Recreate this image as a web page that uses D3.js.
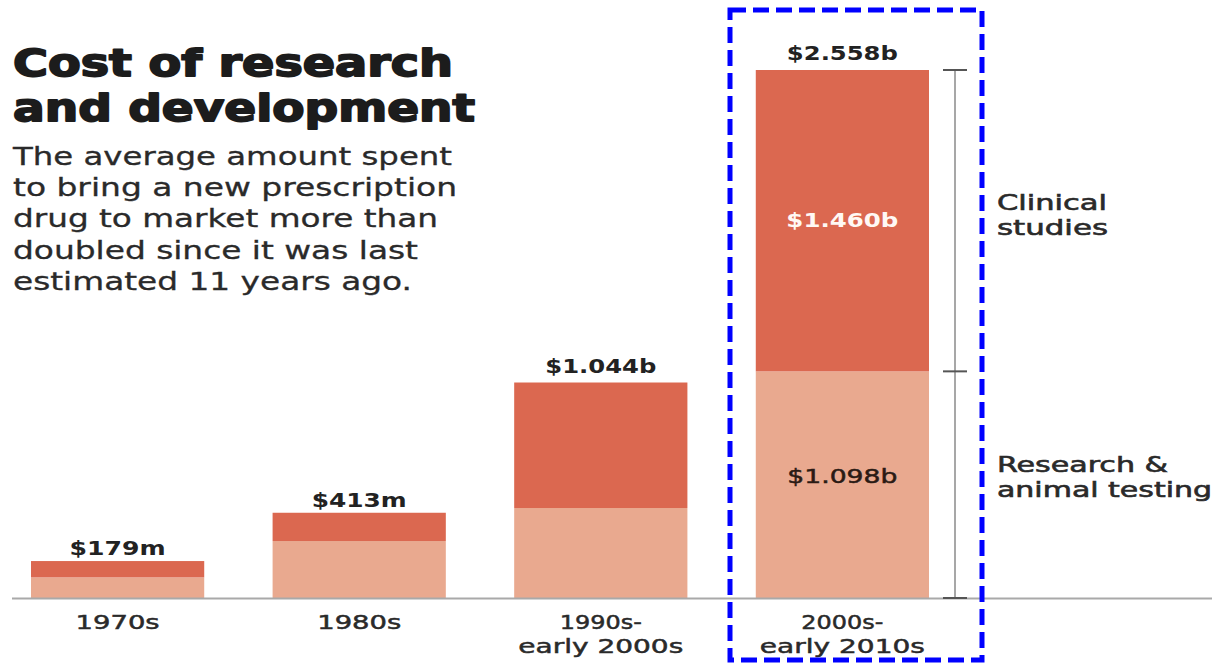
<!DOCTYPE html>
<html>
<head>
<meta charset="utf-8">
<script src="https://cdn.jsdelivr.net/npm/d3@7"></script>
<style>
  html, body { margin: 0; padding: 0; background: #fff; }
  svg { display: block; }
</style>
</head>
<body>
<svg id="chart" width="1212" height="664"></svg>
<script>
// Average cost to bring a new drug to market, in millions of dollars
const periods = ["1970s", "1980s", "1990s-\nearly 2000s", "2000s-\nearly 2010s"];
const researchCost = [100, 276, 436, 1098];   // research & animal testing
const clinicalCost = [79, 137, 608, 1460];    // clinical studies
const totalLabels = ["$179m", "$413m", "$1.044b", "$2.558b"];
const segmentLabels = ["$1.098b", "$1.460b"];
const bracketLabels = [["Clinical", "studies"], ["Research &", "animal testing"]];
const titleLines = ["Cost of research", "and development"];
const introLines = [
  "The average amount spent",
  "to bring a new prescription",
  "drug to market more than",
  "doubled since it was last",
  "estimated 11 years ago."
];

const svg = d3.select("#chart");
const ink = "#222";
const darkRed = "#db6850";
const lightRed = "#e9a98f";

const totals = researchCost.map((r, i) => r + clinicalCost[i]);

const x = d3.scaleBand().domain(periods).range([31, 929]).paddingInner(0.283).paddingOuter(0);
const y = d3.scaleLinear().domain([0, d3.max(totals)]).range([598, 70]);

// Title
const titleW = [440, 462];
svg.append("g").selectAll("text").data(titleLines).join("text")
  .attr("x", 13).attr("y", (d, i) => 76 + i * 45)
  .attr("textLength", (d, i) => titleW[i]).attr("lengthAdjust", "spacingAndGlyphs")
  .attr("font-family", "DejaVu Sans").attr("font-weight", "bold").attr("font-size", 38)
  .attr("fill", "#1c1c1c").attr("stroke", "#1c1c1c").attr("stroke-width", 1.8)
  .attr("stroke-linejoin", "round")
  .text(d => d);

// Intro paragraph
const introW = [439, 444, 425, 405, 399];
svg.append("g").selectAll("text").data(introLines).join("text")
  .attr("x", 13).attr("y", (d, i) => 165 + i * 31.2)
  .attr("textLength", (d, i) => introW[i]).attr("lengthAdjust", "spacingAndGlyphs")
  .attr("font-family", "DejaVu Sans").attr("font-size", 24)
  .attr("fill", "#2a2a2a").attr("stroke", "#2a2a2a").attr("stroke-width", 0.3)
  .text(d => d);

// Stacked bars
const bars = svg.append("g");
bars.selectAll("rect.research").data(periods).join("rect")
  .attr("class", "research")
  .attr("x", d => x(d)).attr("width", x.bandwidth())
  .attr("y", (d, i) => y(researchCost[i]))
  .attr("height", (d, i) => y(0) - y(researchCost[i]))
  .attr("fill", lightRed);
bars.selectAll("rect.clinical").data(periods).join("rect")
  .attr("class", "clinical")
  .attr("x", d => x(d)).attr("width", x.bandwidth())
  .attr("y", (d, i) => y(totals[i]))
  .attr("height", (d, i) => y(researchCost[i]) - y(totals[i]))
  .attr("fill", darkRed);

// Baseline
svg.append("line")
  .attr("x1", 12).attr("x2", 1212).attr("y1", y(0) + 0.5).attr("y2", y(0) + 0.5)
  .attr("stroke", "#a9a9a9").attr("stroke-width", 2);

// Total labels above bars
const totalW = [96, 95, 111, 111];
svg.append("g").selectAll("text").data(periods).join("text")
  .attr("x", d => x(d) + x.bandwidth() / 2)
  .attr("y", (d, i) => y(totals[i]) - (i < 2 ? 6 : 10))
  .attr("text-anchor", "middle")
  .attr("textLength", (d, i) => totalW[i]).attr("lengthAdjust", "spacingAndGlyphs")
  .attr("font-family", "DejaVu Sans").attr("font-weight", "bold").attr("font-size", 20)
  .attr("fill", ink)
  .text((d, i) => totalLabels[i]);

// Segment labels inside the last bar
const last = periods.length - 1;
const cx = x(periods[last]) + x.bandwidth() / 2;
svg.append("text")
  .attr("x", cx).attr("y", y(totals[last]) + 157)
  .attr("text-anchor", "middle").attr("textLength", 112).attr("lengthAdjust", "spacingAndGlyphs")
  .attr("font-family", "DejaVu Sans").attr("font-weight", "bold").attr("font-size", 20)
  .attr("fill", "#fff8f4")
  .text(segmentLabels[1]);
svg.append("text")
  .attr("x", cx).attr("y", y(researchCost[last]) + 112)
  .attr("text-anchor", "middle").attr("textLength", 110).attr("lengthAdjust", "spacingAndGlyphs")
  .attr("font-family", "DejaVu Sans").attr("font-size", 20)
  .attr("fill", "#2a1a14").attr("stroke", "#2a1a14").attr("stroke-width", 0.5)
  .text(segmentLabels[0]);

// Period labels under the axis
const catW = { "1970s": 84, "1980s": 84, "1990s-": 82, "early 2000s": 165, "2000s-": 82, "early 2010s": 165 };
const cats = svg.append("g");
periods.forEach(p => {
  const lines = p.split("\n");
  cats.selectAll(null).data(lines).enter().append("text")
    .attr("x", x(p) + x.bandwidth() / 2)
    .attr("y", (d, j) => 629 + j * 24)
    .attr("text-anchor", "middle")
    .attr("textLength", d => catW[d]).attr("lengthAdjust", "spacingAndGlyphs")
    .attr("font-family", "DejaVu Sans").attr("font-size", 20)
    .attr("fill", "#2a2a2a").attr("stroke", "#2a2a2a").attr("stroke-width", 0.5)
    .text(d => d);
});

// Bracket beside the last bar
const bx = 955;
const bracket = svg.append("g").attr("stroke", "#8a8a8a");
bracket.append("line").attr("x1", bx).attr("x2", bx)
  .attr("y1", y(totals[last])).attr("y2", y(0)).attr("stroke-width", 1.5);
bracket.selectAll("line.tick").data([totals[last], researchCost[last], 0]).join("line")
  .attr("class", "tick")
  .attr("x1", bx - 12).attr("x2", bx + 12)
  .attr("y1", d => y(d)).attr("y2", d => y(d))
  .attr("stroke", "#555").attr("stroke-width", 2);

const bracketW = [[110, 111], [171, 215]];
const bracketY = [210, 472];
bracketLabels.forEach((lines, k) => {
  svg.append("g").selectAll("text").data(lines).join("text")
    .attr("x", 997).attr("y", (d, j) => bracketY[k] + j * 25)
    .attr("textLength", (d, j) => bracketW[k][j]).attr("lengthAdjust", "spacingAndGlyphs")
    .attr("font-family", "DejaVu Sans").attr("font-size", 21)
    .attr("fill", "#2a2a2a").attr("stroke", "#2a2a2a").attr("stroke-width", 0.6)
    .text(d => d);
});

// Highlight frame round the latest period
svg.append("rect")
  .attr("x", 730).attr("y", 10).attr("width", 252).attr("height", 650)
  .attr("fill", "none").attr("stroke", "#0000ff").attr("stroke-width", 5)
  .attr("stroke-dasharray", "16,7");
</script>
</body>
</html>
